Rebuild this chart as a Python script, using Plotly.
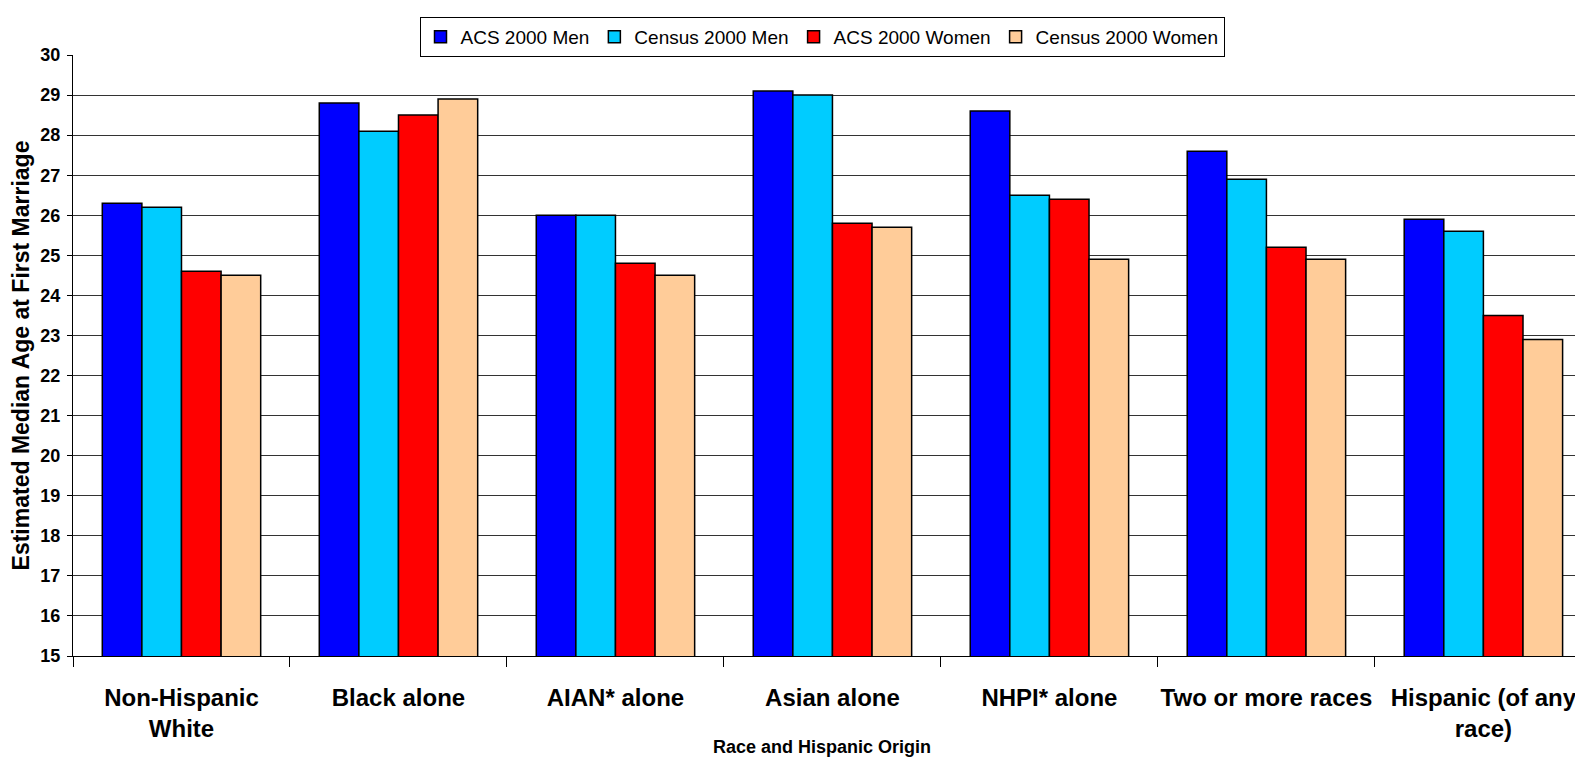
import plotly.graph_objects as go

categories = ["Non-Hispanic<br>White", "Black alone", "AIAN* alone", "Asian alone",
              "NHPI* alone", "Two or more races", "Hispanic (of any<br>race)"]
series_names = ["ACS 2000 Men", "Census 2000 Men", "ACS 2000 Women", "Census 2000 Women"]
acs_men = [26.3, 28.8, 26.0, 29.1, 28.6, 27.6, 25.9]
census_men = [26.2, 28.1, 26.0, 29.0, 26.5, 26.9, 25.6]
acs_women = [24.6, 28.5, 24.8, 25.8, 26.4, 25.2, 23.5]
census_women = [24.5, 28.9, 24.5, 25.7, 24.9, 24.9, 22.9]
y_ticks = list(range(15, 31))

colors = ["#0000FF", "#00CCFF", "#FF0000", "#FFCC99"]
FONT = "Liberation Sans, Arial, sans-serif"

fig = go.Figure()
for name, vals, col in zip(series_names, [acs_men, census_men, acs_women, census_women], colors):
    fig.add_trace(go.Bar(
        x=categories, y=vals, name=name,
        marker=dict(color=col, line=dict(color="black", width=1.5)),
    ))

# the page body adds an 8px offset; figure coords = page coords - 8
OFF = 8
W, H = 1583 - OFF, 759 - OFF
L, R = 73 - OFF, 0
plot_top, plot_bottom = 55 - OFF, 656 - OFF
pw, ph = W - L - R, plot_bottom - plot_top

fig.update_layout(
    width=W, height=H,
    margin=dict(l=L, r=R, t=plot_top, b=H - plot_bottom, autoexpand=False),
    paper_bgcolor="white", plot_bgcolor="white",
    barmode="group", bargap=0.27, bargroupgap=0,
    font=dict(family=FONT, color="black"),
    legend=dict(
        orientation="h", xref="paper", yref="paper",
        x=(814 - L) / pw, xanchor="center", y=(plot_bottom - 9) / ph, yanchor="top",
        bordercolor="black", borderwidth=1, bgcolor="white",
        font=dict(family=FONT, size=19, color="black"),
        itemwidth=30, traceorder="normal",
    ),
    xaxis=dict(
        type="category", range=[-0.5, 6.459], automargin=False,
        showline=True, linecolor="black", linewidth=1,
        ticks="outside", tickson="boundaries", ticklen=10, tickcolor="black",
        showgrid=False, tickangle=0,
        tickfont=dict(family=FONT, size=24, color="black", weight="bold"),
        ticklabelstandoff=20,
    ),
    yaxis=dict(
        range=[15, 30], tickvals=y_ticks, automargin=False,
        showline=True, linecolor="black", linewidth=1,
        ticks="outside", ticklen=5, tickcolor="black",
        showgrid=True, gridcolor="#333333", gridwidth=1,
        tickfont=dict(family=FONT, size=18, color="black", weight="bold"),
        ticklabelstandoff=3,
        title=dict(text="<b>Estimated Median Age at First Marriage</b>",
                   font=dict(family=FONT, size=23, color="black"), standoff=8),
    ),
    annotations=[dict(
        text="<b>Race and Hispanic Origin</b>", xref="paper", yref="paper",
        x=(814 - L) / pw, y=(plot_bottom - 739) / ph, xanchor="center", yanchor="middle",
        showarrow=False, font=dict(family=FONT, size=18, color="black"),
    )],
)

fig.write_html("out.html")
